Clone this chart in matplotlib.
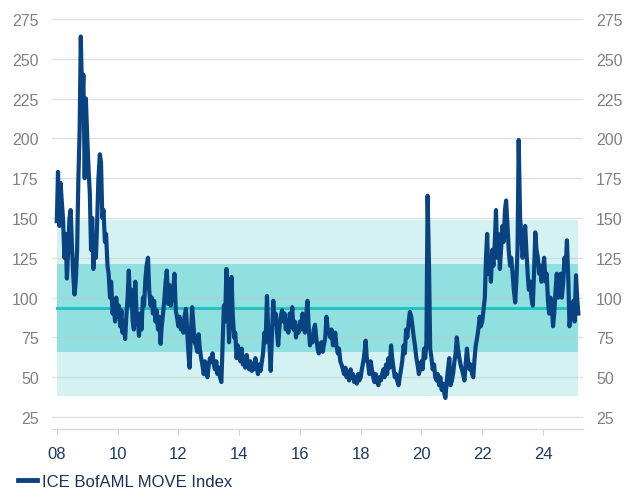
import numpy as np
import pandas as pd
import matplotlib
matplotlib.use("Agg")
import matplotlib.pyplot as plt
import matplotlib.dates as mdates

# ===================== DATA (semi-monthly readings, 1st & 15th) =====================
move_2008 = [148, 179, 145, 172, 160, 150, 125, 140, 112, 128, 150, 155,
             132, 115, 102, 110, 130, 172, 205, 264, 222, 240, 175, 225]
move_2009 = [200, 182, 165, 130, 150, 118, 135, 125, 150, 175, 190, 185,
             150, 155, 135, 140, 120, 115, 100, 110, 90, 95, 85, 100]
move_2010 = [88, 95, 82, 92, 78, 85, 74, 88, 100, 117, 95, 105,
             85, 80, 110, 92, 85, 76, 90, 80, 100, 95, 112, 120]
move_2011 = [125, 105, 95, 100, 90, 98, 85, 92, 80, 88, 71, 82,
             90, 98, 110, 117, 96, 108, 95, 100, 105, 115, 92, 88]
move_2012 = [82, 88, 80, 85, 78, 88, 93, 80, 65, 56, 80, 94,
             82, 72, 70, 66, 77, 68, 62, 58, 52, 60, 55, 50]
move_2013 = [58, 62, 60, 65, 58, 55, 60, 52, 56, 50, 47, 70,
             95, 85, 118, 100, 72, 95, 113, 90, 75, 78, 62, 70]
move_2014 = [65, 60, 68, 58, 62, 56, 64, 58, 55, 60, 54, 58,
             55, 62, 56, 52, 58, 54, 60, 65, 78, 72, 101, 80]
move_2015 = [70, 54, 80, 98, 85, 90, 78, 70, 82, 88, 92, 85,
             90, 80, 86, 78, 90, 82, 94, 80, 85, 75, 82, 78]
move_2016 = [85, 80, 90, 85, 78, 88, 98, 82, 70, 75, 72, 80,
             83, 75, 68, 65, 70, 72, 66, 70, 75, 88, 80, 78]
move_2017 = [75, 80, 70, 72, 78, 70, 65, 68, 60, 58, 55, 52,
             56, 50, 53, 48, 55, 50, 52, 47, 50, 46, 52, 48]
move_2018 = [50, 55, 60, 65, 73, 62, 58, 52, 60, 55, 50, 47,
             52, 48, 45, 50, 48, 52, 55, 50, 58, 52, 62, 56]
move_2019 = [70, 62, 55, 50, 52, 48, 45, 50, 55, 60, 70, 65,
             80, 75, 85, 91, 88, 82, 75, 70, 62, 58, 52, 55]
move_2020 = [60, 55, 68, 62, 72, 164, 120, 68, 62, 55, 58, 50,
             48, 52, 45, 50, 42, 46, 40, 37, 48, 55, 62, 45]
move_2021 = [48, 52, 60, 65, 75, 68, 62, 58, 55, 52, 48, 58,
             68, 60, 55, 58, 52, 50, 62, 70, 75, 80, 88, 82]
move_2022 = [85, 92, 100, 125, 140, 115, 125, 110, 130, 120, 135, 155,
             125, 140, 118, 130, 145, 135, 155, 161, 145, 130, 120, 125]
move_2023 = [115, 105, 97, 110, 130, 199, 150, 140, 125, 135, 145, 130,
             115, 105, 110, 100, 95, 115, 141, 130, 125, 115, 120, 110]
move_2024 = [118, 125, 110, 115, 98, 90, 100, 95, 82, 90, 105, 115,
             100, 108, 115, 100, 110, 125, 120, 136, 110, 82, 90, 95]
move_2025 = [98, 85, 114, 100, 90]

move = (move_2008 + move_2009 + move_2010 + move_2011 + move_2012 + move_2013
        + move_2014 + move_2015 + move_2016 + move_2017 + move_2018 + move_2019
        + move_2020 + move_2021 + move_2022 + move_2023 + move_2024 + move_2025)
dates = pd.date_range("2008-01-01", periods=len(move), freq="SMS")

# long-run average and +/- 1 and 2 standard deviation bands
avg_level = 93.5
inner_band = (66, 121)
outer_band = (38.5, 149)

yticks = [25, 50, 75, 100, 125, 150, 175, 200, 225, 250, 275]
xtick_years = list(range(2008, 2026, 2))

# ===================== PLOT =====================
plt.rcParams["font.family"] = ["Liberation Sans", "DejaVu Sans"]

fig = plt.figure(figsize=(6.41, 5.02), dpi=100)
ax = fig.add_axes([0.081, 0.1434, 0.8285, 0.8327])

ax.fill_between(dates, outer_band[0], outer_band[1], color="#d4f2f2", lw=0, zorder=0.2)
ax.fill_between(dates, inner_band[0], inner_band[1], color="#8fe0df", lw=0, zorder=0.3)
ax.plot([dates[0], dates[-1]], [avg_level, avg_level], color="#22c4c2", lw=2.2, zorder=0.4)

ax.plot(dates, move, color="#0a4382", lw=3.0, solid_joinstyle="round", zorder=3,
        label="ICE BofAML MOVE Index")

ax.set_ylim(17.5, 280)
ax.set_xlim(pd.Timestamp("2007-11-03"), pd.Timestamp("2025-04-26"))
ax.set_yticks(yticks)
ax.set_xticks([pd.Timestamp(f"{y}-01-01") for y in xtick_years])
ax.xaxis.set_major_formatter(mdates.DateFormatter("%y"))

ax.set_axisbelow(True)
ax.yaxis.grid(True, color="#c8c8c8", lw=1.0, alpha=0.55)
for s in ["top", "left", "right"]:
    ax.spines[s].set_visible(False)
ax.spines["bottom"].set_color("#d9d9d9")
ax.spines["bottom"].set_linewidth(1.0)

ax.tick_params(axis="y", left=False, right=False, labelleft=True, labelright=True,
               labelsize=11.5, labelcolor="#808080", pad=6)
ax.tick_params(axis="x", length=4, color="#d0d0d0", labelsize=12,
               labelcolor="#1f3a5f", pad=8)

leg = fig.legend(loc="lower left", bbox_to_anchor=(0.005, -0.005), frameon=False,
                 fontsize=12, handlelength=1.1, handletextpad=0.35)
for t in leg.get_texts():
    t.set_color("#1a3458")
for h in leg.get_lines():
    h.set_linewidth(3.5)

fig.savefig("out.png", dpi=100)
